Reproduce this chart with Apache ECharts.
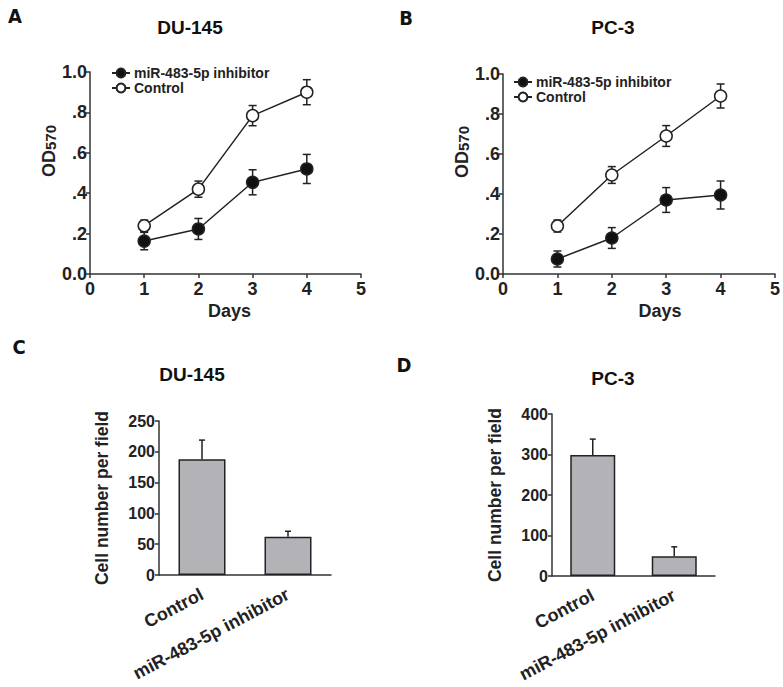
<!DOCTYPE html>
<html>
<head>
<meta charset="utf-8">
<script src="https://cdn.jsdelivr.net/npm/echarts@6/dist/echarts.min.js"></script>
<style>
html,body{margin:0;padding:0;background:#fff;}
#chart{width:783px;height:687px;}
</style>
</head>
<body>
<div id="chart"></div>
<script>
// ---- data ----
const days = [1, 2, 3, 4];
const seriesNames = ['miR-483-5p inhibitor', 'Control'];
const duInhib = [0.163, 0.223, 0.454, 0.52];
const duInhibErr = [0.043, 0.052, 0.062, 0.072];
const duCtrl = [0.239, 0.42, 0.784, 0.90];
const duCtrlErr = [0.028, 0.04, 0.05, 0.062];
const pcInhib = [0.075, 0.18, 0.37, 0.395];
const pcInhibErr = [0.04, 0.052, 0.062, 0.07];
const pcCtrl = [0.24, 0.495, 0.69, 0.89];
const pcCtrlErr = [0.03, 0.042, 0.052, 0.06];
const odTickLabels = {0: '0.0', 0.2: '.2', 0.4: '.4', 0.6: '.6', 0.8: '.8', 1: '1.0'};
const barCats = ['Control', 'miR-483-5p inhibitor'];
const duBar = [188, 62];
const duBarErr = [31, 9];
const pcBar = [299, 49];
const pcBarErr = [39, 23];

const FONT = "'Liberation Sans', Arial, sans-serif";
const COND = "'Liberation Sans Narrow', 'DejaVu Sans Condensed', 'Liberation Sans', sans-serif";
const INK = '#222';
const AX = '#333';

function pairs(xs, ys, es) { return xs.map((x, i) => [x, ys[i], es[i]]); }

function errBoth(params, api) {
  const x = api.value(0), y = api.value(1), e = api.value(2);
  const hi = api.coord([x, y + e]), lo = api.coord([x, y - e]);
  const hw = 4;
  const style = {stroke: INK, lineWidth: 1.5, fill: null};
  return {type: 'group', children: [
    {type: 'line', shape: {x1: hi[0], y1: hi[1], x2: lo[0], y2: lo[1]}, style},
    {type: 'line', shape: {x1: hi[0] - hw, y1: hi[1], x2: hi[0] + hw, y2: hi[1]}, style},
    {type: 'line', shape: {x1: lo[0] - hw, y1: lo[1], x2: lo[0] + hw, y2: lo[1]}, style}
  ]};
}
function errUp(params, api) {
  const x = api.value(0), y = api.value(1), e = api.value(2);
  const hi = api.coord([x, y + e]), lo = api.coord([x, y]);
  const hw = 3;
  const style = {stroke: INK, lineWidth: 1.5, fill: null};
  return {type: 'group', children: [
    {type: 'line', shape: {x1: hi[0], y1: hi[1], x2: lo[0], y2: lo[1]}, style},
    {type: 'line', shape: {x1: hi[0] - hw, y1: hi[1], x2: hi[0] + hw, y2: hi[1]}, style}
  ]};
}

function lineXAxis(gi, pad) {
  return {
    type: 'value', gridIndex: gi, min: 0, max: 5, interval: 1,
    name: 'Days', nameLocation: 'middle', nameGap: 28,
    nameTextStyle: {fontFamily: FONT, fontWeight: 'bold', fontSize: 18, color: INK, padding: [0, 0, 0, pad]},
    axisLine: {show: true, lineStyle: {color: AX, width: 1.5}},
    axisTick: {show: true, length: 4, lineStyle: {color: AX, width: 1.5}},
    axisLabel: {fontFamily: FONT, fontWeight: 'bold', fontSize: 18, color: INK, margin: 6},
    splitLine: {show: false}
  };
}
function lineYAxis(gi, gap) {
  return {
    type: 'value', gridIndex: gi, min: 0, max: 1, interval: 0.2,
    name: '{a|OD}{b|570}', nameLocation: 'middle', nameGap: gap, nameRotate: 90,
    nameTextStyle: {
      padding: [0, 0, 0, 44],
      rich: {
        a: {fontFamily: FONT, fontWeight: 'bold', fontSize: 18, color: INK},
        b: {fontFamily: FONT, fontWeight: 'bold', fontSize: 15, color: INK, verticalAlign: 'bottom', padding: [3, 0, 0, 0]}
      }
    },
    axisLine: {show: true, lineStyle: {color: AX, width: 1.5}},
    axisTick: {show: true, length: 4, lineStyle: {color: AX, width: 1.5}},
    axisLabel: {fontFamily: FONT, fontWeight: 'bold', fontSize: 18, color: INK, margin: 3,
      formatter: v => odTickLabels[Math.round(v * 10) / 10] ?? String(v)},
    splitLine: {show: false}
  };
}
function barXAxis(gi) {
  return {
    type: 'category', gridIndex: gi, data: barCats,
    axisLine: {show: true, lineStyle: {color: AX, width: 1.5}},
    axisTick: {show: false},
    axisLabel: {fontFamily: FONT, fontWeight: 'bold', fontSize: 18, color: INK, rotate: 28, interval: 0, margin: 18},
    splitLine: {show: false}
  };
}
function barYAxis(gi, max, interval) {
  return {
    type: 'value', gridIndex: gi, min: 0, max: max, interval: interval,
    name: 'Cell number per field', nameLocation: 'middle', nameGap: 48, nameRotate: 90,
    nameTextStyle: {fontFamily: FONT, fontWeight: 'bold', fontSize: 17.5, color: INK},
    axisLine: {show: true, lineStyle: {color: AX, width: 1.5}},
    axisTick: {show: true, length: 4, lineStyle: {color: AX, width: 1.5}},
    axisLabel: {fontFamily: FONT, fontWeight: 'bold', fontSize: 16, color: INK, margin: 4},
    splitLine: {show: false}
  };
}

function lineSeries(name, gi, data, filled) {
  return {
    type: 'line', name: name, xAxisIndex: gi, yAxisIndex: gi,
    data: data.map((v, i) => [days[i], v]),
    symbol: 'circle', symbolSize: 12, z: 5,
    lineStyle: {color: INK, width: 1.5},
    itemStyle: {color: filled ? '#111' : '#fff', borderColor: INK, borderWidth: 1.5, opacity: 1},
    emphasis: {disabled: true}, animation: false
  };
}
function errSeries(gi, data, errs) {
  return {
    type: 'custom', xAxisIndex: gi, yAxisIndex: gi, z: 3,
    data: pairs(days, data, errs), renderItem: errBoth, encode: {x: 0, y: 1},
    silent: true, animation: false
  };
}

function legend(left, top) {
  return {
    left: left, top: top, orient: 'vertical', itemGap: 1,
    itemWidth: 18, itemHeight: 11, data: seriesNames,
    textStyle: {fontFamily: FONT, fontWeight: 'bold', fontSize: 14, color: INK, padding: [0, 0, 0, -1]},
    selectedMode: false
  };
}

function txt(text, x, y, size, family) {
  return {type: 'text', x: x, y: y, style: {text: text, font: 'bold ' + size + 'px ' + family, fill: '#111', align: 'center', verticalAlign: 'middle'}};
}

const option = {
  backgroundColor: '#fff',
  animation: false,
  grid: [
    {left: 90, top: 72, width: 271, height: 202},
    {left: 503, top: 74, width: 274, height: 200},
    {left: 159, top: 421, width: 172, height: 154},
    {left: 552, top: 414, width: 163, height: 162}
  ],
  xAxis: [lineXAxis(0, 8), lineXAxis(1, 42), barXAxis(2), barXAxis(3)],
  yAxis: [lineYAxis(0, 32), lineYAxis(1, 26), barYAxis(2, 250, 50), barYAxis(3, 400, 100)],
  legend: [legend(106, 61), legend(508, 70)],
  series: [
    errSeries(0, duInhib, duInhibErr),
    errSeries(0, duCtrl, duCtrlErr),
    lineSeries(seriesNames[0], 0, duInhib, true),
    lineSeries(seriesNames[1], 0, duCtrl, false),
    errSeries(1, pcInhib, pcInhibErr),
    errSeries(1, pcCtrl, pcCtrlErr),
    lineSeries(seriesNames[0], 1, pcInhib, true),
    lineSeries(seriesNames[1], 1, pcCtrl, false),
    {
      type: 'bar', xAxisIndex: 2, yAxisIndex: 2, data: duBar, barWidth: 47, z: 2,
      itemStyle: {color: '#b3b3b7', borderColor: INK, borderWidth: 1.5}, silent: true
    },
    {
      type: 'custom', xAxisIndex: 2, yAxisIndex: 2, z: 3, encode: {x: 0, y: 1},
      data: duBar.map((v, i) => [i, v, duBarErr[i]]), renderItem: errUp, silent: true
    },
    {
      type: 'bar', xAxisIndex: 3, yAxisIndex: 3, data: pcBar, barWidth: 45, z: 2,
      itemStyle: {color: '#b3b3b7', borderColor: INK, borderWidth: 1.5}, silent: true
    },
    {
      type: 'custom', xAxisIndex: 3, yAxisIndex: 3, z: 3, encode: {x: 0, y: 1},
      data: pcBar.map((v, i) => [i, v, pcBarErr[i]]), renderItem: errUp, silent: true
    }
  ],
  graphic: [
    txt('A', 15, 16, 20, COND),
    txt('B', 406, 18, 20, COND),
    txt('C', 19, 347, 20, COND),
    txt('D', 404, 365, 20, COND),
    txt('DU-145', 190, 27, 19, FONT),
    txt('PC-3', 613, 27, 19, FONT),
    txt('DU-145', 192, 374, 19, FONT),
    txt('PC-3', 613, 378, 19, FONT)
  ]
};

const chart = echarts.init(document.getElementById('chart'), null, {renderer: 'svg'});
chart.setOption(option);
</script>
</body>
</html>
